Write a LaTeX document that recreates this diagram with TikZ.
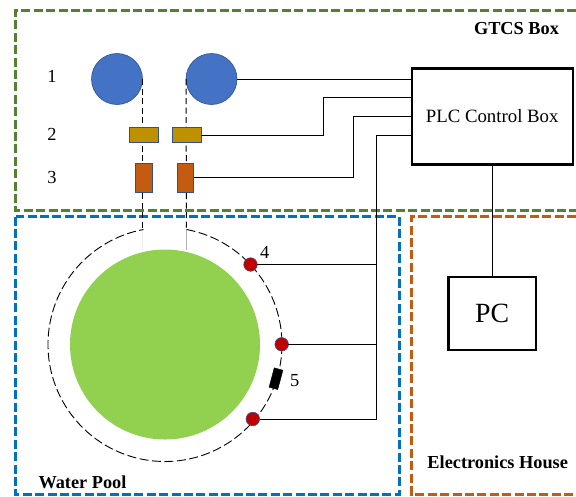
\documentclass[tikz,border=0pt]{standalone}
\usepackage{fontspec}
\setmainfont{Liberation Serif}
\usetikzlibrary{arrows.meta}
\usetikzlibrary{positioning}
\definecolor{gtcsgreen}{HTML}{548235}
\definecolor{poolblue}{HTML}{0070C0}
\definecolor{houseorange}{HTML}{C55A11}
\definecolor{tubeblue}{HTML}{4472C4}
\definecolor{rimblue}{HTML}{2F528F}
\definecolor{valvegold}{HTML}{BF9000}
\definecolor{tankgreen}{HTML}{92D050}
\definecolor{sensorred}{HTML}{C00000}

\begin{document}
\begin{tikzpicture}[x=1pt,y=-1pt]
    \tikzstyle{zone}=[line width=3pt, dash pattern=on 9pt off 3.4pt]
    \tikzstyle{wire}=[line width=1pt]
    \tikzstyle{tube}=[line width=1pt, dash pattern=on 6pt off 3.5pt]
    \tikzstyle{bottle}=[draw=rimblue, fill=tubeblue, circle, outer sep=0pt, inner sep=0pt, minimum size=51pt, line width=0.6pt]
    \tikzstyle{valve}=[draw=rimblue, fill=valvegold, outer sep=0pt, inner sep=0pt, minimum width=29pt, minimum height=15pt, line width=0.8pt]
    \tikzstyle{pump}=[draw=rimblue, fill=houseorange, outer sep=0pt, inner sep=0pt, minimum width=16.5pt, minimum height=29pt, line width=0.8pt]
    \tikzstyle{sensor}=[draw=rimblue, fill=sensorred, circle, outer sep=0pt, inner sep=0pt, minimum size=13.5pt, line width=0.6pt]
    \tikzstyle{ctrl}=[draw, outer sep=0pt, inner sep=0pt, line width=2.2pt]
    \tikzstyle{num}=[inner sep=0pt, font=\fontsize{18.4}{18.4}\selectfont]
    \tikzstyle{title}=[inner sep=0pt, font=\fontsize{18.3}{18.3}\selectfont\bfseries]
    \useasboundingbox (0,0) rectangle (576,496);
    % zones
    \draw[zone, gtcsgreen] (576,10.5) -| (15.5,210.5) -- (576,210.5);
    \draw[zone, poolblue] (15.5,216.5) rectangle (399,494.5);
    \draw[zone, houseorange] (576,216.5) -| (411.5,494.5) -- (576,494.5);
    \node[title] (gtcsT) at (516.5,29) {GTCS Box};
    \node[title] (poolT) at (82.5,482.5) {Water Pool};
    \node[title] (houseT) at (497.7,462) {Electronics House};
    % tank and ring
    \node[circle, fill=tankgreen, outer sep=0pt, inner sep=0pt, minimum size=190pt] (tank) at (165,344.5) {};
    \coordinate (ringL) at (142.5,229.5);
    \coordinate (ringR) at (186.5,229.5);
    \coordinate (tankL) at (142.5,250);
    \coordinate (tankR) at (186.5,250);
    \draw[line width=0.6pt, gray!15] (ringL) -- (tankL);
    \draw[line width=0.6pt, gray!60] (ringR) -- (tankR);
    \draw[line width=0.9pt, dash pattern=on 9pt off 3.5pt] (ringR) arc[start angle=-79.4, end angle=259.4, radius=117];
    % gas line
    \node[bottle] (B1) at (117,79) {};
    \node[bottle] (B2) at (211.5,79) {};
    \draw[tube] (B1.east) -- (ringL);
    \draw[tube] (B2.west) -- (ringR);
    \node[valve] (V1) at (144,135) {};
    \node[valve] (V2) at (186.5,135) {};
    \node[pump] (M1) at (143.8,177.5) {};
    \node[pump] (M2) at (185.3,177.5) {};
    \node[sensor] (S1) at (250.5,264.5) {};
    \node[sensor] (S2) at (281.7,344.3) {};
    \node[sensor] (S3) at (252.8,419) {};
    \node[draw, fill=black, outer sep=0pt, inner sep=0pt, minimum width=9pt, minimum height=20pt, rotate=-15] (H) at (276,378.7) {};
    % boxes
    \node[ctrl, minimum width=161pt, minimum height=96pt, font=\fontsize{18.8}{18.8}\selectfont] (PLC) at (492.2,116.5) {PLC Control Box};
    \node[ctrl, minimum width=87.5pt, minimum height=73pt, font=\fontsize{27.8}{27.8}\selectfont] (PC) at (492.2,313.3) {PC};
    % wiring
    \coordinate (p1) at (411.5,79);
    \coordinate (p2) at (411.5,97.5);
    \coordinate (p3) at (411.5,116.5);
    \coordinate (p4) at (411.5,135);
    \coordinate (k2) at (323.5,97.5);
    \coordinate (k3) at (353.7,116.5);
    \coordinate (t) at (376.7,419);
    \draw[wire] (B2.east) -- (p1);
    \foreach \i/\j/\k in
    {V2/p2/k2, M2/p3/k3}
    {\draw[wire] (\i.east) -| (\k) -- (\j);}
    \draw[wire] (p4) -| (t) -- (S3.east);
    \foreach \i in {S1, S2}
    {\draw[wire] (\i.east) -- (\i -| t);}
    \draw[wire] (PLC.south) -- (PC.north);
    % numbers
    \foreach \i/\x/\y in
    {1/52/76.7, 2/52/134, 3/52/177.3, 4/264.7/252.3, 5/294.7/381}
    {\node[num] (n\i) at (\x,\y) {\i};}
\end{tikzpicture}
\end{document}
